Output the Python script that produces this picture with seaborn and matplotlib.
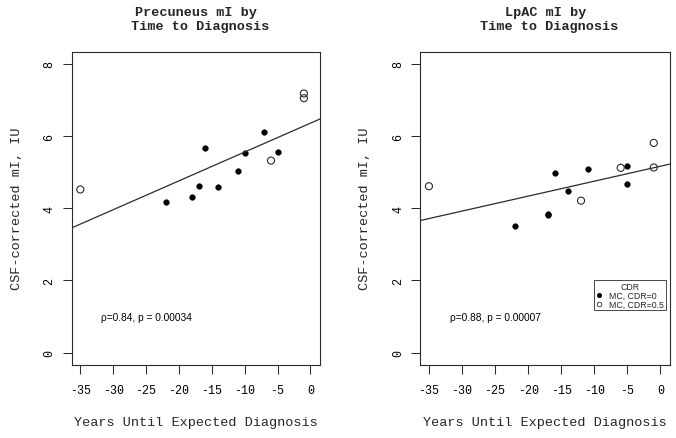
import numpy as np
import pandas as pd
import matplotlib
matplotlib.use("Agg")
import matplotlib.pyplot as plt
from matplotlib.lines import Line2D
import seaborn as sns

# -------------------------------
# Data
# -------------------------------
pre_years = [-35, -22, -18, -17, -16, -14, -11, -10, -7, -6, -5, -1, -1]
pre_mi = [4.52, 4.18, 4.30, 4.61, 5.66, 4.59, 5.03, 5.52, 6.10, 5.32, 5.56, 7.18, 7.05]
pre_cdr = [0.5, 0, 0, 0, 0, 0, 0, 0, 0, 0.5, 0, 0.5, 0.5]

lpac_years = [-35, -22, -17, -17, -16, -14, -12, -11, -6, -5, -5, -1, -1]
lpac_mi = [4.61, 3.52, 3.85, 3.80, 4.99, 4.47, 4.21, 5.08, 5.12, 5.16, 4.67, 5.81, 5.13]
lpac_cdr = [0.5, 0, 0, 0, 0, 0, 0.5, 0, 0.5, 0, 0, 0.5, 0.5]

titles = ["Precuneus mI by\n Time to Diagnosis", "LpAC mI by\n Time to Diagnosis"]
stats_text = ["\u03c1=0.84, p = 0.00034", "\u03c1=0.88, p = 0.00007"]
x_ticks = [-35, -30, -25, -20, -15, -10, -5, 0]
y_ticks = [0, 2, 4, 6, 8]
legend_labels = ["MC, CDR=0", "MC, CDR=0.5"]

panels = [
    pd.DataFrame({"years": pre_years, "mi": pre_mi, "cdr": pre_cdr}),
    pd.DataFrame({"years": lpac_years, "mi": lpac_mi, "cdr": lpac_cdr}),
]

# -------------------------------
# Style
# -------------------------------
sns.set_style("white")
mono = "Liberation Mono"
sans = "Liberation Sans"
ink = "#2b2b2b"

fig = plt.figure(figsize=(6.76, 4.39), dpi=100)
positions = [
    [0.1061, 0.1674, 0.3673, 0.7119],
    [0.6218, 0.1674, 0.3693, 0.7119],
]

for i, df in enumerate(panels):
    ax = fig.add_axes(positions[i])
    ax.set_xlim(-36.3, 1.45)
    ax.set_ylim(-0.33, 8.33)

    filled = df[df["cdr"] == 0]
    hollow = df[df["cdr"] == 0.5]
    sns.scatterplot(data=filled, x="years", y="mi", ax=ax, color="black",
                    s=17, edgecolor="black", linewidth=0.3, legend=False)
    sns.scatterplot(data=hollow, x="years", y="mi", ax=ax, facecolor="none",
                    s=26, edgecolor=ink, linewidth=0.8, legend=False)
    sns.regplot(data=df, x="years", y="mi", ax=ax, scatter=False, ci=None,
                truncate=False, line_kws=dict(color=ink, lw=0.9))

    ax.set_xlim(-36.3, 1.45)
    ax.set_ylim(-0.33, 8.33)

    ax.text(-25, 1, stats_text[i], ha="center", va="center",
            fontsize=7.3, family=sans, color="black")

    ax.set_xticks(x_ticks)
    ax.set_yticks(y_ticks)
    ax.set_xticklabels([str(t) for t in x_ticks], family=mono, fontsize=8.4)
    ax.set_yticklabels([str(t) for t in y_ticks], family=mono, fontsize=8.4,
                       rotation=90, va="center")
    ax.tick_params(axis="both", direction="out", length=6.2, width=0.75,
                   color=ink, labelcolor="black", bottom=True, left=True)
    ax.tick_params(axis="x", pad=7.5)
    ax.tick_params(axis="y", pad=5.5)

    for sp in ax.spines.values():
        sp.set_color(ink)
        sp.set_linewidth(0.8)

    ax.set_xlabel("Years Until Expected Diagnosis", family=mono, fontsize=9.7)
    ax.set_ylabel("CSF-corrected mI, IU", family=mono, fontsize=9.7)
    ax.xaxis.set_label_coords(0.5, -0.184)
    ax.xaxis.label.set_va("center")
    ax.yaxis.set_label_coords(-0.2215, 0.5)
    ax.yaxis.label.set_va("center")

    ax.set_title(titles[i], family=mono, fontsize=9.7, fontweight="bold",
                 y=1.1056, va="center", pad=0, linespacing=1.2)

    if i == 1:
        handles = [
            Line2D([], [], ls="none", marker="o", markersize=2.6,
                   markerfacecolor="black", markeredgecolor="black"),
            Line2D([], [], ls="none", marker="o", markersize=3.3,
                   markerfacecolor="none", markeredgecolor=ink,
                   markeredgewidth=0.6),
        ]
        leg = ax.legend(handles, legend_labels, title="CDR",
                        loc="upper left", bbox_to_anchor=(-10, 2),
                        bbox_transform=ax.transData,
                        prop={"family": sans, "size": 6.3},
                        title_fontproperties={"family": sans, "size": 6.3},
                        frameon=True, fancybox=False, framealpha=1,
                        edgecolor=ink, borderpad=0.2, labelspacing=-0.05,
                        handlelength=0.7, handletextpad=0.8,
                        borderaxespad=0, markerscale=1)
        leg.get_frame().set_linewidth(0.6)
        leg._legend_box.sep = 0

fig.savefig("out.png", dpi=100, facecolor="white")
